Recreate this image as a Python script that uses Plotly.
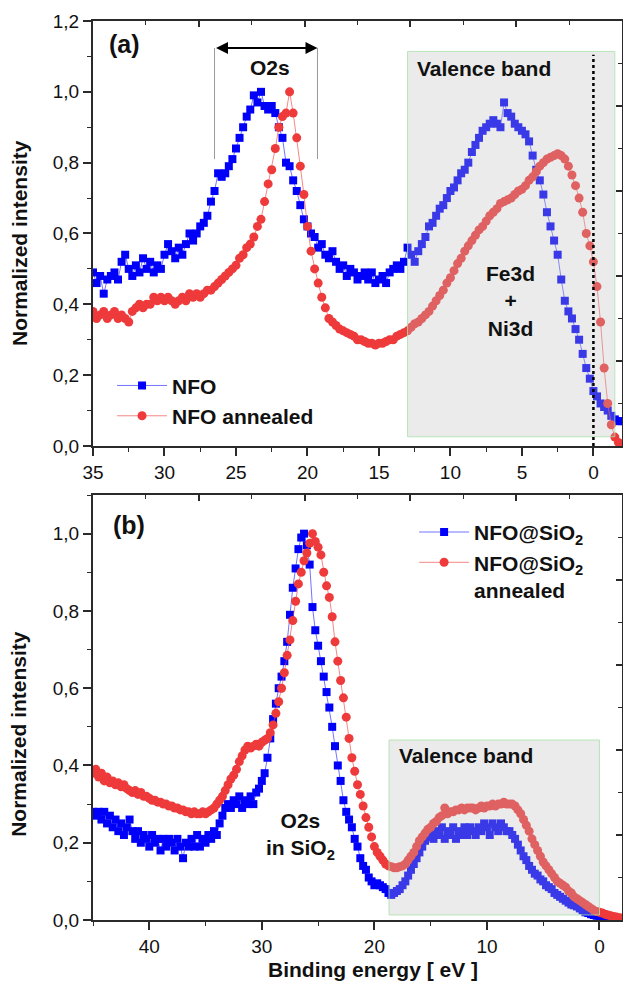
import plotly.graph_objects as go

# ---------------- data ----------------
# Panel (a): energy grid 35 -> -2 eV, step 0.25
E_A_START, E_A_STEP = 35.0, 0.25
nfo_a = [
    0.49, 0.46, 0.48, 0.43,
    0.47, 0.48, 0.49, 0.47,
    0.52, 0.54, 0.50, 0.48,
    0.51, 0.49, 0.53, 0.50,
    0.52, 0.49, 0.51, 0.50,
    0.54, 0.57, 0.55, 0.53,
    0.56, 0.54, 0.57, 0.60,
    0.58, 0.60, 0.62, 0.63,
    0.65, 0.69, 0.72, 0.77,
    0.76, 0.77, 0.79, 0.81,
    0.84, 0.87, 0.90, 0.93,
    0.95, 0.99, 0.97, 1.00,
    0.96, 0.95, 0.96, 0.94,
    0.90, 0.87, 0.80, 0.79,
    0.75, 0.72, 0.68, 0.64,
    0.62, 0.60, 0.59, 0.56,
    0.57, 0.54, 0.53, 0.55,
    0.52, 0.50, 0.51, 0.48,
    0.50, 0.49, 0.47, 0.48,
    0.49, 0.47, 0.49, 0.46,
    0.47, 0.48, 0.46, 0.49,
    0.50, 0.51, 0.50, 0.52,
    0.56, 0.54, 0.52, 0.55,
    0.57, 0.59, 0.62, 0.63,
    0.65, 0.67, 0.68, 0.70,
    0.72, 0.73, 0.75, 0.77,
    0.78, 0.80, 0.83, 0.85,
    0.87, 0.89, 0.90, 0.91,
    0.92, 0.91, 0.90, 0.97,
    0.94, 0.93, 0.91, 0.90,
    0.89, 0.88, 0.86, 0.82,
    0.78, 0.75, 0.71, 0.66,
    0.62, 0.58, 0.54, 0.47,
    0.41, 0.38, 0.36, 0.33,
    0.30, 0.26, 0.22, 0.19,
    0.155, 0.14, 0.12, 0.11,
    0.10, 0.085, 0.075, 0.07,
    0.07,
]
nfo_annealed_a = [
    0.38, 0.36, 0.37, 0.38,
    0.36, 0.37, 0.38, 0.36,
    0.37, 0.36, 0.35, 0.38,
    0.39, 0.40, 0.39, 0.40,
    0.40, 0.42, 0.41, 0.42,
    0.41, 0.42, 0.41, 0.40,
    0.41, 0.42, 0.41, 0.43,
    0.42, 0.43, 0.42, 0.43,
    0.44, 0.44, 0.45, 0.46,
    0.47, 0.48, 0.49, 0.50,
    0.51, 0.53, 0.54, 0.56,
    0.57, 0.59, 0.62, 0.64,
    0.69, 0.74, 0.78, 0.84,
    0.90, 0.93, 0.94, 1.00,
    0.94, 0.87, 0.79, 0.71,
    0.62, 0.55, 0.50, 0.46,
    0.42, 0.39, 0.36, 0.35,
    0.34, 0.33, 0.325, 0.32,
    0.315, 0.31, 0.30, 0.30,
    0.295, 0.29, 0.29, 0.285,
    0.29, 0.29, 0.295, 0.30,
    0.30, 0.31, 0.315, 0.32,
    0.325, 0.335, 0.345, 0.35,
    0.36, 0.37, 0.38, 0.395,
    0.41, 0.425, 0.44, 0.46,
    0.475, 0.495, 0.515, 0.53,
    0.55, 0.565, 0.58, 0.595,
    0.61, 0.62, 0.635, 0.65,
    0.66, 0.67, 0.685, 0.69,
    0.695, 0.70, 0.71, 0.72,
    0.725, 0.735, 0.75, 0.76,
    0.775, 0.79, 0.80, 0.81,
    0.815, 0.82, 0.825, 0.82,
    0.81, 0.79, 0.765, 0.735,
    0.70, 0.66, 0.60, 0.565,
    0.52, 0.45, 0.35, 0.22,
    0.12, 0.06, 0.025, 0.01,
    0.005,
]

# Panel (b): energy grid 45 -> -2 eV, step 0.25
E_B_START, E_B_STEP = 45.0, 0.25
nfo_sio2_b = [
    0.28, 0.27, 0.28, 0.26,
    0.28, 0.25, 0.27, 0.24,
    0.26, 0.23, 0.25, 0.22,
    0.24, 0.26, 0.23, 0.21,
    0.23, 0.20, 0.22, 0.21,
    0.19, 0.22, 0.20, 0.21,
    0.18, 0.21, 0.19, 0.21,
    0.20, 0.18, 0.21, 0.19,
    0.16, 0.20, 0.19, 0.21,
    0.19, 0.22, 0.19, 0.21,
    0.20, 0.22, 0.21, 0.23,
    0.22, 0.25, 0.27, 0.29,
    0.30, 0.29, 0.31, 0.30,
    0.32, 0.29, 0.31, 0.30,
    0.32, 0.30, 0.33, 0.34,
    0.36, 0.38, 0.42, 0.47,
    0.52, 0.56, 0.60, 0.63,
    0.67, 0.72, 0.79, 0.86,
    0.91, 0.96, 0.99, 1.00,
    0.97, 0.92, 0.81, 0.75,
    0.71, 0.67, 0.63, 0.59,
    0.55, 0.50, 0.45, 0.40,
    0.36, 0.31, 0.28, 0.26,
    0.24, 0.21, 0.19, 0.16,
    0.14, 0.13, 0.11, 0.10,
    0.09, 0.095, 0.09, 0.085,
    0.08, 0.07, 0.065, 0.07,
    0.075, 0.08, 0.09, 0.10,
    0.115, 0.13, 0.145, 0.16,
    0.175, 0.19, 0.205, 0.215,
    0.22, 0.21, 0.23, 0.22,
    0.24, 0.21, 0.23, 0.22,
    0.24, 0.21, 0.23, 0.22,
    0.24, 0.22, 0.24, 0.23,
    0.22, 0.24, 0.23, 0.25,
    0.24, 0.22, 0.25, 0.24,
    0.23, 0.25, 0.24, 0.23,
    0.23, 0.22, 0.21, 0.195,
    0.18, 0.165, 0.155, 0.14,
    0.13, 0.12, 0.115, 0.105,
    0.10, 0.09, 0.085, 0.08,
    0.07, 0.065, 0.06, 0.055,
    0.05, 0.045, 0.04, 0.038,
    0.035, 0.03, 0.025, 0.02,
    0.018, 0.015, 0.013, 0.011,
    0.01, 0.009, 0.008, 0.007,
    0.006, 0.006, 0.005, 0.005,
    0.005,
]
nfo_sio2_annealed_b = [
    0.38, 0.39, 0.37, 0.38,
    0.36, 0.37, 0.355, 0.36,
    0.35, 0.355, 0.345, 0.35,
    0.34, 0.335, 0.33, 0.335,
    0.325, 0.33, 0.32, 0.32,
    0.315, 0.31, 0.31, 0.305,
    0.305, 0.30, 0.30, 0.295,
    0.295, 0.29, 0.29, 0.285,
    0.285, 0.28, 0.28, 0.275,
    0.28, 0.275, 0.275, 0.28,
    0.275, 0.28, 0.285, 0.29,
    0.30, 0.31, 0.32, 0.335,
    0.35, 0.365, 0.375, 0.39,
    0.41, 0.425, 0.44, 0.45,
    0.445, 0.45, 0.455, 0.45,
    0.46, 0.465, 0.47, 0.485,
    0.505, 0.535, 0.565, 0.60,
    0.64, 0.685, 0.725, 0.775,
    0.825, 0.87, 0.90, 0.93,
    0.95, 0.975, 1.00, 0.98,
    0.965, 0.945, 0.90, 0.865,
    0.835, 0.785, 0.72, 0.67,
    0.62, 0.575, 0.525, 0.47,
    0.42, 0.385, 0.35, 0.325,
    0.295, 0.265, 0.24, 0.215,
    0.19, 0.175, 0.165, 0.155,
    0.145, 0.14, 0.138, 0.135,
    0.135, 0.138, 0.14, 0.145,
    0.155, 0.165, 0.175, 0.19,
    0.205, 0.215, 0.225, 0.235,
    0.24, 0.25, 0.255, 0.265,
    0.27, 0.29, 0.275, 0.28,
    0.28, 0.285, 0.285, 0.29,
    0.285, 0.29, 0.29, 0.29,
    0.285, 0.29, 0.295, 0.29,
    0.295, 0.295, 0.30, 0.295,
    0.30, 0.30, 0.305, 0.30,
    0.30, 0.30, 0.295, 0.285,
    0.275, 0.26, 0.245, 0.23,
    0.21, 0.195, 0.18, 0.165,
    0.15, 0.14, 0.13, 0.12,
    0.11, 0.10, 0.095, 0.09,
    0.085, 0.075, 0.07, 0.06,
    0.055, 0.05, 0.045, 0.04,
    0.035, 0.03, 0.025, 0.022,
    0.02, 0.018, 0.015, 0.013,
    0.011, 0.009, 0.008, 0.006,
    0.005,
]

x_ticks_a = [35, 30, 25, 20, 15, 10, 5, 0]
x_ticks_b = [40, 30, 20, 10, 0]


def grid(start, step, n):
    return [round(start - step * i, 3) for i in range(n)]


xa = grid(E_A_START, E_A_STEP, len(nfo_a))
xa_r = grid(E_A_START, E_A_STEP, len(nfo_annealed_a))
xb = grid(E_B_START, E_B_STEP, len(nfo_sio2_b))
xb_r = grid(E_B_START, E_B_STEP, len(nfo_sio2_annealed_b))

# ---------------- style ----------------
FONT = "Arial, Liberation Sans, sans-serif"
BLUE = "rgb(0,0,250)"
BLUE_LINE = "rgba(40,40,255,0.65)"
RED = "rgb(238,58,58)"
RED_LINE = "rgba(240,70,70,0.65)"
AX = "#2a2a2a"

fig = go.Figure()

fig.add_trace(go.Scatter(x=xa, y=nfo_a, mode="lines+markers", name="NFO",
                         line=dict(color=BLUE_LINE, width=1),
                         marker=dict(symbol="square", size=8, color=BLUE),
                         xaxis="x", yaxis="y", legend="legend"))
fig.add_trace(go.Scatter(x=xa_r, y=nfo_annealed_a, mode="lines+markers", name="NFO annealed",
                         line=dict(color=RED_LINE, width=1),
                         marker=dict(symbol="circle", size=9, color=RED),
                         xaxis="x", yaxis="y", legend="legend"))
fig.add_trace(go.Scatter(x=xb, y=nfo_sio2_b, mode="lines+markers", name="NFO@SiO<sub>2</sub>",
                         line=dict(color=BLUE_LINE, width=1),
                         marker=dict(symbol="square", size=8, color=BLUE),
                         xaxis="x2", yaxis="y2", legend="legend2"))
fig.add_trace(go.Scatter(x=xb_r, y=nfo_sio2_annealed_b, mode="lines+markers",
                         name="NFO@SiO<sub>2</sub><br>annealed",
                         line=dict(color=RED_LINE, width=1),
                         marker=dict(symbol="circle", size=9, color=RED),
                         xaxis="x2", yaxis="y2", legend="legend2"))
# empty traces to host the inner-tick frame axes (top / right)
fig.add_trace(go.Scatter(x=[None], y=[None], xaxis="x3", yaxis="y3", showlegend=False, hoverinfo="skip"))
fig.add_trace(go.Scatter(x=[None], y=[None], xaxis="x4", yaxis="y4", showlegend=False, hoverinfo="skip"))

DOM_A = [0.5273, 1.0]
DOM_B = [0.0, 0.4727]

base_x = dict(showgrid=False, zeroline=False, showline=True, linewidth=2, linecolor=AX,
              mirror=True, ticks="outside", ticklen=8, tickwidth=1.5, tickcolor=AX,
              tickfont=dict(family=FONT, size=19, color="#111"), automargin=False)
base_y = dict(base_x)
fr = dict(showgrid=False, zeroline=False, showline=False, showticklabels=False,
          ticks="inside", ticklen=6, tickwidth=1.5, tickcolor=AX, range=[0, 1],
          tickmode="linear", tick0=0, dtick=0.2, automargin=False,
          minor=dict(ticks="inside", ticklen=4, tickwidth=1.2, tickcolor=AX, dtick=0.1))

fig.update_layout(
    width=623, height=983,
    margin=dict(l=93, r=1, t=21, b=63, autoexpand=False),
    paper_bgcolor="white", plot_bgcolor="white",
    separators=", ",
    font=dict(family=FONT, color="#111"),
    xaxis=dict(base_x, domain=[0, 1], anchor="y", range=[35, -2],
               tickmode="array", tickvals=x_ticks_a,
               minor=dict(ticks="outside", ticklen=4, tickwidth=1.2, tickcolor=AX, dtick=2.5, tick0=0)),
    yaxis=dict(base_y, domain=DOM_A, anchor="x", range=[0, 1.2], tickmode="linear", tick0=0,
               dtick=0.2, tickformat=".1f",
               minor=dict(ticks="outside", ticklen=4, tickwidth=1.2, tickcolor=AX, dtick=0.1)),
    xaxis2=dict(base_x, domain=[0, 1], anchor="y2", range=[45, -2],
                tickmode="array", tickvals=x_ticks_b,
                minor=dict(ticks="outside", ticklen=4, tickwidth=1.2, tickcolor=AX, dtick=5, tick0=0)),
    yaxis2=dict(base_y, domain=DOM_B, anchor="x2", range=[0, 1.1], tickmode="linear", tick0=0,
                dtick=0.2, tickformat=".1f",
                minor=dict(ticks="outside", ticklen=4, tickwidth=1.2, tickcolor=AX, dtick=0.1)),
    xaxis3=dict(fr, overlaying="x", anchor="y3", side="top"),
    yaxis3=dict(fr, overlaying="y", anchor="x3", side="right"),
    xaxis4=dict(fr, overlaying="x2", anchor="y4", side="top"),
    yaxis4=dict(fr, overlaying="y2", anchor="x4", side="right"),
    legend=dict(x=0.036, y=0.617, xanchor="left", yanchor="top", bgcolor="rgba(0,0,0,0)",
                font=dict(family=FONT, size=21, color="#111", weight="bold"), itemwidth=50,
                tracegroupgap=0),
    legend2=dict(x=0.607, y=0.454, xanchor="left", yanchor="top", bgcolor="rgba(0,0,0,0)",
                 font=dict(family=FONT, size=21, color="#111", weight="bold"), itemwidth=50,
                 valign="top", tracegroupgap=0),
    showlegend=True,
)

# ---------------- shapes ----------------
shapes = [
    # valence band box (a)
    dict(type="rect", xref="x", yref="y", x0=13.0, x1=-1.5, y0=0.026, y1=1.114,
         fillcolor="rgba(190,190,190,0.3)", line=dict(color="rgba(170,225,170,0.8)", width=1), layer="above"),
    # Fermi level
    dict(type="line", xref="x", yref="y", x0=0, x1=0, y0=0, y1=1.105,
         line=dict(color="black", width=2.5, dash="dot"), layer="above"),
    # O2s bracket lines
    dict(type="line", xref="x", yref="y", x0=26.5, x1=26.5, y0=0.81, y1=1.124,
         line=dict(color="#9a9a9a", width=1)),
    dict(type="line", xref="x", yref="y", x0=19.3, x1=19.3, y0=0.81, y1=1.124,
         line=dict(color="#9a9a9a", width=1)),
    # valence band box (b)
    dict(type="rect", xref="x2", yref="y2", x0=18.7, x1=0.0, y0=0.013, y1=0.466,
         fillcolor="rgba(190,190,190,0.3)", line=dict(color="rgba(170,225,170,0.8)", width=1), layer="above"),
]
fig.update_layout(shapes=shapes)

# ---------------- annotations ----------------
def txt(x, y, s, size=21, xref="x", yref="y", **kw):
    fig.add_annotation(x=x, y=y, xref=xref, yref=yref, text=s, showarrow=False,
                       xanchor="center", yanchor="middle",
                       font=dict(family=FONT, size=size, color="#111", weight="bold"), **kw)


txt(32.8, 1.135, "(a)", size=25)
txt(22.6, 1.07, "O2s")
txt(7.65, 1.065, "Valence band")
txt(5.8, 0.41, "Fe3d<br>+<br>Ni3d")
txt(41.8, 1.023, "(b)", size=25, xref="x2", yref="y2")
txt(26.6, 0.218, "O2s<br>in SiO<sub>2</sub>", xref="x2", yref="y2")
txt(11.9, 0.425, "Valence band", xref="x2", yref="y2")

# axis titles
txt(0.530, -0.0556, "Binding energy [ eV ]", xref="paper", yref="paper")
txt(-0.14, 0.753, "Normalized intensity", xref="paper", yref="paper", textangle=-90)
txt(-0.14, 0.207, "Normalized intensity", xref="paper", yref="paper", textangle=-90)

# O2s double arrow
fig.add_annotation(x=19.3, y=1.124, ax=26.5, ay=1.124, xref="x", yref="y", axref="x", ayref="y",
                   text="", showarrow=True, arrowhead=2, startarrowhead=2, arrowside="end+start",
                   arrowwidth=2, arrowsize=1.2, startarrowsize=1.2, arrowcolor="black",
                   standoff=0, startstandoff=0)

fig.write_html("out.html", config={"displayModeBar": False},
               post_script="document.body.style.margin='0px';document.body.style.overflow='hidden';")
